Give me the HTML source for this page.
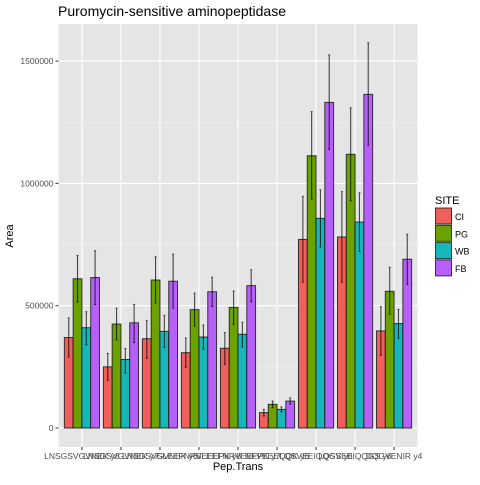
<!DOCTYPE html>
<html><head><meta charset="utf-8"><style>
body{margin:0;background:#fff;font-family:"Liberation Sans",sans-serif}
</style></head><body>
<svg id="chart" width="480" height="480" xmlns="http://www.w3.org/2000/svg" style="font-family:'Liberation Sans',sans-serif">
<text x="58" y="16" font-size="14" fill="#000">Puromycin-sensitive aminopeptidase</text>
<rect x="58.5" y="24" width="359" height="423" fill="#e5e5e5"/>
<g id="grid"></g><g id="bars"></g><g id="axes"></g>
<text x="238" y="470" font-size="11" text-anchor="middle" fill="#000">Pep.Trans</text>
<text x="0" y="0" font-size="11" text-anchor="middle" fill="#000" transform="translate(13,236) rotate(-90)">Area</text>
<g id="legend">
<text x="435" y="204" font-size="11" fill="#000">SITE</text>
</g>
</svg>
<script>
const categories=["LNSGSVGVNEK y8","LNSGSVGVNEK y7","LNSGSVGVNEK y6","SLEEFNRVEEEPK y8","SLEEFNRVEEEPK y7","NFVEEEQQK y6","LQSVEEIQQGS y8","LQSVEEIQQGS y6","DQGVENIR y4"];
const series=["CI","PG","WB","FB"];
const ciVals=[370,250,365,308,326,63,771,781,397];
const pgVals=[610,425,605,484,493,97,1113,1119,559];
const wbVals=[410,280,395,372,383,76,857,842,427];
const fbVals=[615,430,600,557,582,110,1331,1364,690];
const ciLo=[290,195,285,248,260,49,596,596,297];
const ciHi=[450,305,440,368,390,76,947,966,496];
const pgLo=[515,360,510,416,424,83,935,929,465];
const pgHi=[705,490,700,551,560,110,1293,1309,657];
const wbLo=[340,225,330,322,331,66,739,722,367];
const wbHi=[475,325,460,421,432,86,974,961,485];
const fbLo=[505,350,490,497,516,98,1139,1156,587];
const fbHi=[725,505,710,616,647,123,1525,1575,792];
const yTicks=[0,500000,1000000,1500000];
const yTickLabels=["0","500000","1000000","1500000"];
const colors=["#F15F5C","#6BA200","#17B6B9","#B760F7"];
const NS="http://www.w3.org/2000/svg";
const vals=[ciVals,pgVals,wbVals,fbVals],lo=[ciLo,pgLo,wbLo,fbLo],hi=[ciHi,pgHi,wbHi,fbHi];
const px0=58.5,pw=359,unit=pw/(categories.length+0.2);
function xC(i){return px0+(i+0.6)*unit;}
function y(v){return 428-v*122.3/500000;}
function mk(p,tag,a){const e=document.createElementNS(NS,tag);for(const k in a)e.setAttribute(k,a[k]);p.appendChild(e);return e;}
const grid=document.getElementById('grid'),bars=document.getElementById('bars'),axes=document.getElementById('axes'),leg=document.getElementById('legend');
for(let k=0;k<yTicks.length-1;k++){const v=(yTicks[k]+yTicks[k+1])/2;const l=mk(grid,'line',{x1:px0,x2:px0+pw,y1:y(v),y2:y(v),stroke:'#f2f2f2','stroke-width':0.6});

}
yTicks.forEach((v,k)=>{const l=mk(grid,'line',{x1:px0,x2:px0+pw,y1:y(v),y2:y(v),stroke:'#fff','stroke-width':1.1});


const t=mk(axes,'line',{x1:px0-3,x2:px0,y1:y(v),y2:y(v),stroke:'#333','stroke-width':1});


const tx=mk(axes,'text',{x:px0-5,y:y(v)+3,'font-size':8.5,'text-anchor':'end',fill:'#4d4d4d'});tx.textContent=yTickLabels[k];

});
categories.forEach((c,i)=>{const x=xC(i);
const g=mk(grid,'line',{x1:x,x2:x,y1:24,y2:447,stroke:'#fff','stroke-width':1.1});


const t=mk(axes,'line',{x1:x,x2:x,y1:447,y2:450,stroke:'#333','stroke-width':1});


const tx=mk(axes,'text',{x:x,y:459,'font-size':8.5,'text-anchor':'middle',fill:'#4d4d4d'});tx.textContent=c;


const bw=unit*0.9/4;
for(let s=0;s<4;s++){const bx=x-unit*0.45+s*bw;const v=vals[s][i]*1000;
const r=mk(bars,'rect',{x:bx,y:y(v),width:bw,height:y(0)-y(v),fill:colors[s],stroke:'#111','stroke-width':1,'stroke-opacity':0.8});


const cx=bx+bw/2;
const e=mk(bars,'path',{d:`M${cx-1} ${y(hi[s][i]*1000)}H${cx+1}M${cx} ${y(hi[s][i]*1000)}V${y(lo[s][i]*1000)}M${cx-1} ${y(lo[s][i]*1000)}H${cx+1}`,stroke:'#000','stroke-width':1.1,'stroke-opacity':0.7,fill:'none'});

}});
series.forEach((s,k)=>{const yy=208+k*17.3;
const r=mk(leg,'rect',{x:435.5,y:yy,width:16,height:16,fill:colors[k],stroke:'#111','stroke-width':1,'stroke-opacity':0.8});


const t=mk(leg,'text',{x:455,y:yy+12,'font-size':9,fill:'#000'});t.textContent=s;

});
</script>
</body></html>
